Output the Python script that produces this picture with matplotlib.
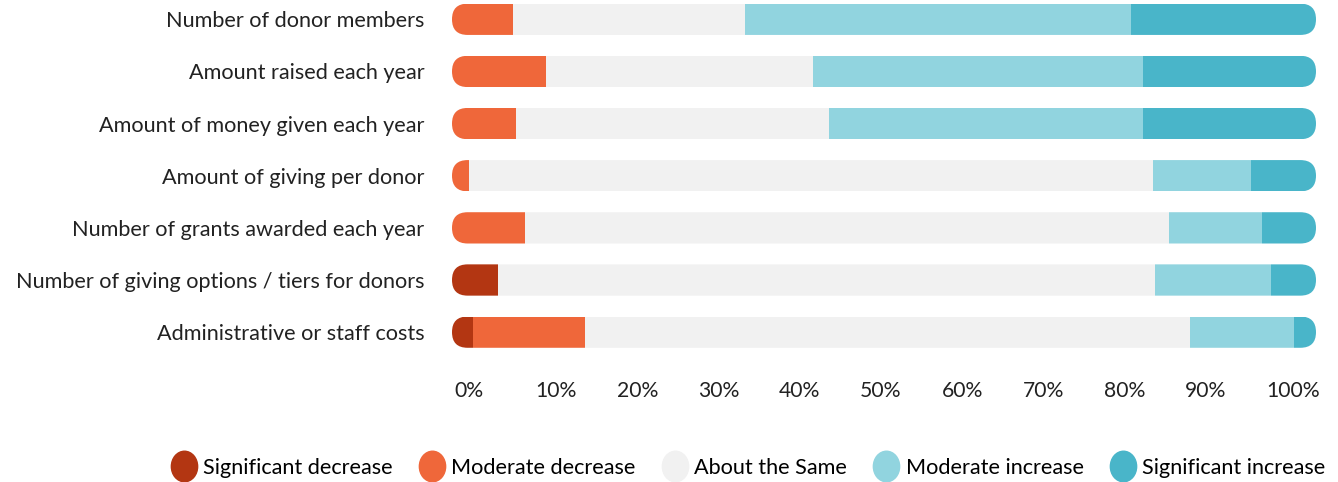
import matplotlib.pyplot as plt
import numpy as np
from matplotlib.patches import FancyBboxPatch
from matplotlib.lines import Line2D
from matplotlib.path import Path
from matplotlib.transforms import Affine2D

plt.rcParams['font.family'] = ['Lato', 'DejaVu Sans']

# survey items, top to bottom
categories = ['Number of donor members', 'Amount raised each year',
              'Amount of money given each year', 'Amount of giving per donor',
              'Number of grants awarded each year',
              'Number of giving options / tiers for donors',
              'Administrative or staff costs']
sig_dec = [0, 0, 0, 0, 0, 5.3, 2.4]
mod_dec = [7.1, 10.9, 7.4, 2.0, 8.5, 0, 13.0]
same = [26.8, 30.9, 36.2, 79.1, 74.5, 76.1, 70.0]
mod_inc = [44.7, 38.2, 36.4, 11.4, 10.7, 13.4, 12.1]
sig_inc = [21.4, 20.0, 20.0, 7.5, 6.3, 5.2, 2.5]

series = ['Significant decrease', 'Moderate decrease', 'About the Same',
          'Moderate increase', 'Significant increase']
colors = ['#B33612', '#EF673A', '#F1F1F1', '#91D4DF', '#49B5C9']
tick_labels = ['0%', '10%', '20%', '30%', '40%', '50%', '60%', '70%', '80%', '90%', '100%']

W, H = 13.38, 4.82
fig = plt.figure(figsize=(W, H), dpi=100)
ax_l, ax_b, ax_w, ax_h = 452 / 1338, 1 - 353 / 482, 864 / 1338, 353 / 482
ax = fig.add_axes([ax_l, ax_b, ax_w, ax_h])
ylo, yhi = 6.4, -0.37
ax.set_xlim(0, 100)
ax.set_ylim(ylo, yhi)

y = np.arange(len(categories))
bh = 0.6
data = [sig_dec, mod_dec, same, mod_inc, sig_inc]

# rounded clip per row
px_x = ax_w * W * 100 / 100
px_y = ax_h * H * 100 / abs(ylo - yhi)
aspect = px_x / px_y
clips = []
for yi in y:
    c = FancyBboxPatch((0, yi - bh / 2), 100, bh,
                       boxstyle='round,pad=0,rounding_size=%f' % (bh / 2 / aspect),
                       mutation_aspect=aspect, facecolor='none', edgecolor='none')
    ax.add_patch(c)
    clips.append(c)

left = np.zeros(len(categories))
for vals, col in zip(data, colors):
    bars = ax.barh(y, vals, left=left, height=bh, color=col, linewidth=0)
    for b, c in zip(bars, clips):
        b.set_clip_path(c)
    left += np.array(vals)

ax.set_yticks(y)
ax.set_yticklabels(categories, fontsize=15.6, color='#222222')
ax.tick_params(axis='y', length=0, pad=20)

xt = 0.25 + 9.4 * np.arange(11)
ax.set_xticks(xt)
ax.set_xticklabels(tick_labels, fontsize=15.2, color='#222222', ha='left')
ax.tick_params(axis='x', length=0, pad=20)

for s in ax.spines.values():
    s.set_visible(False)

ellipse = Path(Affine2D().scale(0.86, 1.0).transform(Path.unit_circle().vertices),
               Path.unit_circle().codes)
handles = [Line2D([], [], marker=ellipse, linestyle='none', markersize=22,
                  markerfacecolor=c, markeredgecolor=c) for c in colors]
fig.legend(handles, series, loc='center', bbox_to_anchor=(748 / 1338, 1 - 468 / 482),
           ncol=5, frameon=False, fontsize=15.6, handletextpad=0.3,
           columnspacing=1.2, handlelength=1.2)

fig.savefig('out.png', dpi=100)
